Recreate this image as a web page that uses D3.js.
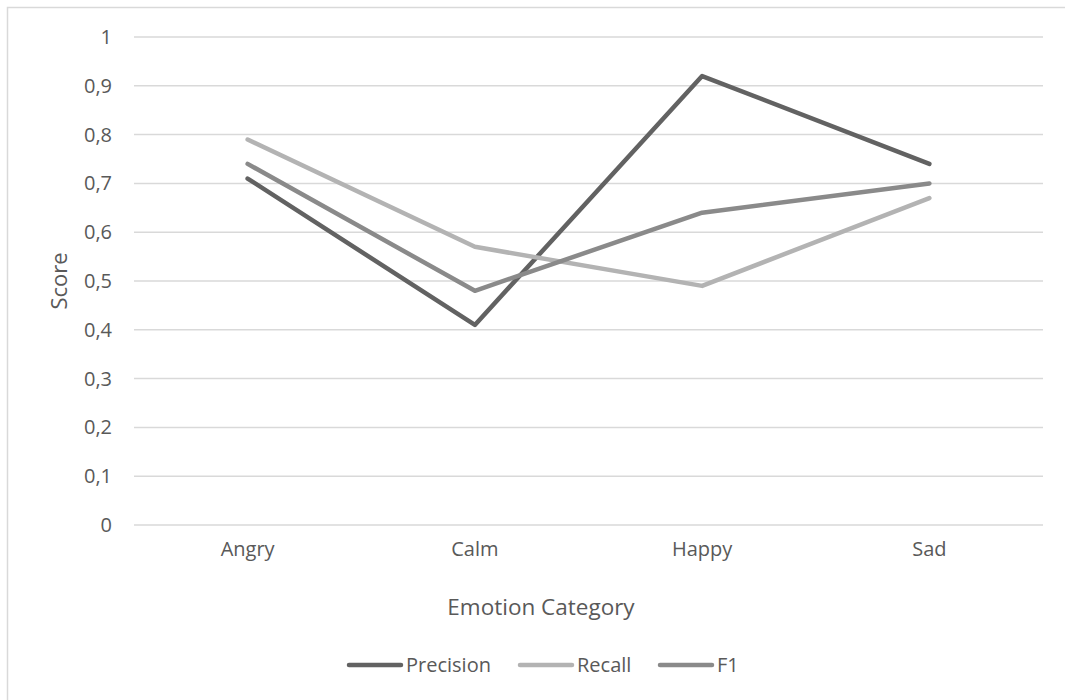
<!DOCTYPE html>
<html>
<head>
<meta charset="utf-8">
<script src="https://cdn.jsdelivr.net/npm/d3@7"></script>
<style>
  html, body { margin: 0; padding: 0; background: #fff; }
  svg { display: block; }
  svg text { font-family: "Open Sans", "Noto Sans", sans-serif; fill: #595959; }
</style>
</head>
<body>
<div id="view"></div>
<script>
// ---------- Data ----------
const CATEGORIES = ["Angry", "Calm", "Happy", "Sad"];
const PRECISION  = [0.71, 0.41, 0.92, 0.74];
const RECALL     = [0.79, 0.57, 0.49, 0.67];
const F1         = [0.74, 0.48, 0.64, 0.70];
const Y_TICKS    = [0, 0.1, 0.2, 0.3, 0.4, 0.5, 0.6, 0.7, 0.8, 0.9, 1];

const SERIES = [
  { name: "Precision", values: PRECISION, color: "#626262" },
  { name: "Recall",    values: RECALL,    color: "#b3b3b3" },
  { name: "F1",        values: F1,        color: "#8a8a8a" }
];

// comma decimal like the original
const fmtTick = d => String(d3.format("~g")(d)).replace(".", ",");

// ---------- Draw ----------
const W = 1065, H = 700;
const M = { t: 37, r: 22, b: 175, l: 134 };
const w = W - M.l - M.r;
const h = H - M.t - M.b;

const svg = d3.select("#view").append("svg")
  .attr("width", W).attr("height", H);

// chart frame (clipped at right / bottom like the source)
svg.append("rect")
  .attr("x", 7.5).attr("y", 7.5)
  .attr("width", W).attr("height", H)
  .attr("fill", "none")
  .attr("stroke", "#d9d9d9")
  .attr("stroke-width", 1.5);

const g = svg.append("g").attr("transform", `translate(${M.l},${M.t})`);

const x = d3.scaleBand().domain(CATEGORIES).range([0, w]);
const y = d3.scaleLinear().domain([0, 1]).range([h, 0]);

// gridlines
g.append("g")
  .selectAll("line")
  .data(Y_TICKS)
  .join("line")
  .attr("x1", 0).attr("x2", w)
  .attr("y1", d => y(d)).attr("y2", d => y(d))
  .attr("stroke", "#d9d9d9")
  .attr("stroke-width", 1.5);

// y axis labels
const yAxis = g.append("g")
  .call(d3.axisLeft(y).tickValues(Y_TICKS).tickFormat(fmtTick).tickSize(0).tickPadding(22));
yAxis.select(".domain").remove();
yAxis.attr("font-family", null).attr("font-size", null);
yAxis.selectAll("text").style("font-size", "20px").attr("fill", "#595959");

// x axis labels
const xAxis = g.append("g")
  .attr("transform", `translate(0,${h})`)
  .call(d3.axisBottom(x).tickSize(0).tickPadding(17));
xAxis.select(".domain").remove();
xAxis.attr("font-family", null).attr("font-size", null);
xAxis.selectAll("text").style("font-size", "20px").attr("fill", "#595959");

// axis titles
svg.append("text")
  .attr("x", 541).attr("y", 615)
  .attr("text-anchor", "middle")
  .style("font-size", "22.5px")
  .text("Emotion Category");

svg.append("text")
  .attr("transform", "translate(67,281) rotate(-90)")
  .attr("text-anchor", "middle")
  .style("font-size", "22px")
  .text("Score");

// lines
const line = d3.line()
  .x((d, i) => x(CATEGORIES[i]) + x.bandwidth() / 2)
  .y(d => y(d));

g.selectAll("path.series")
  .data(SERIES)
  .join("path")
  .attr("class", "series")
  .attr("d", s => line(s.values))
  .attr("fill", "none")
  .attr("stroke", s => s.color)
  .attr("stroke-width", 4.5)
  .attr("stroke-linecap", "round")
  .attr("stroke-linejoin", "round");

// legend
const LEG_X = [347, 518, 658];
const leg = svg.append("g").attr("transform", "translate(0,665)");
const items = leg.selectAll("g")
  .data(SERIES)
  .join("g")
  .attr("transform", (d, i) => `translate(${LEG_X[i]},0)`);
items.append("line")
  .attr("x1", 2).attr("x2", 54)
  .attr("stroke", d => d.color)
  .attr("stroke-width", 4.5)
  .attr("stroke-linecap", "round");
items.append("text")
  .attr("x", 59).attr("y", 7)
  .style("font-size", "20px")
  .text(d => d.name);
</script>
</body>
</html>
